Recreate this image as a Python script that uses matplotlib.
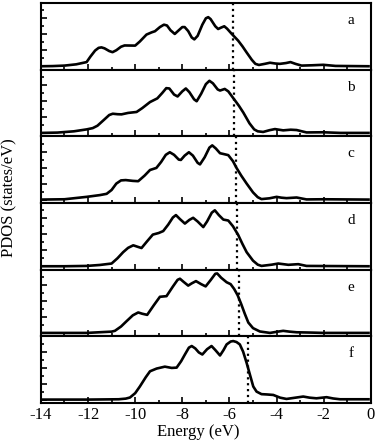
import numpy as np
import matplotlib
matplotlib.use("Agg")
import matplotlib.pyplot as plt
from matplotlib.ticker import MultipleLocator

plt.rcParams["font.family"] = ["Liberation Serif", "DejaVu Serif"]

# PDOS curves (energy in eV, density in arbitrary units)
e_a = [-14.0, -13.5, -13.0, -12.5, -12.06, -11.9, -11.7, -11.55, -11.43, -11.3, -11.1,
       -10.96, -10.8, -10.6, -10.45, -10.0, -9.8, -9.52, -9.3, -9.16, -8.95, -8.78,
       -8.65, -8.5, -8.32, -8.15, -8.0, -7.9, -7.75, -7.6, -7.49, -7.35, -7.15,
       -7.0, -6.9, -6.8, -6.6, -6.48, -6.35, -6.22, -6.1, -5.9, -5.63, -5.45,
       -5.27, -5.05, -4.9, -4.75, -4.5, -4.28, -4.05, -3.86, -3.6, -3.41, -3.2,
       -2.94, -2.5, -2.02, -1.5, -0.1]
d_a = [0.0, 0.01, 0.04, 0.12, 0.26, 0.6, 0.98, 1.15, 1.18, 1.12, 0.95,
       0.88, 1.0, 1.22, 1.3, 1.29, 1.55, 1.98, 2.12, 2.19, 2.45, 2.6,
       2.55, 2.25, 2.02, 2.25, 2.45, 2.45, 2.2, 1.8, 1.68, 1.9, 2.6,
       3.0, 3.07, 2.95, 2.5, 2.33, 2.42, 2.5, 2.35, 2.02, 1.6, 1.25,
       0.86, 0.4, 0.15, 0.08, 0.15, 0.22, 0.17, 0.15, 0.2, 0.26, 0.15,
       0.04, 0.06, 0.09, 0.02, 0.0]

e_b = [-14.0, -13.3, -12.6, -12.06, -11.8, -11.6, -11.3, -11.1, -10.95, -10.75, -10.58,
       -10.3, -9.94, -9.7, -9.37, -9.06, -8.85, -8.68, -8.55, -8.35, -8.2, -8.0,
       -7.85, -7.7, -7.5, -7.39, -7.2, -7.0, -6.85, -6.7, -6.5, -6.4, -6.2,
       -6.05, -5.84, -5.6, -5.41, -5.15, -4.95, -4.8, -4.57, -4.3, -4.07, -3.72,
       -3.4, -3.15, -2.73, -2.02, -1.3, -0.1]
d_b = [0.0, 0.02, 0.1, 0.22, 0.3, 0.45, 0.85, 1.12, 1.2, 1.17, 1.16,
       1.25, 1.31, 1.55, 1.93, 2.16, 2.5, 2.8, 2.78, 2.4, 2.28, 2.6,
       2.78, 2.55, 2.1, 1.98, 2.45, 3.05, 3.26, 3.1, 2.72, 2.65, 2.75,
       2.6, 2.18, 1.7, 1.27, 0.6, 0.22, 0.1, 0.06, 0.17, 0.24, 0.16,
       0.2, 0.18, 0.03, 0.04, 0.0, 0.0]

e_c = [-14.0, -13.0, -12.06, -11.5, -11.21, -11.0, -10.8, -10.6, -10.4, -10.1, -9.87,
       -9.6, -9.37, -9.1, -8.9, -8.7, -8.53, -8.35, -8.15, -8.06, -7.9, -7.72,
       -7.55, -7.35, -7.25, -7.05, -6.85, -6.73, -6.58, -6.4, -6.25, -6.05, -5.85,
       -5.7, -5.5, -5.27, -5.0, -4.8, -4.64, -4.3, -4.0, -3.8, -3.58, -3.15,
       -2.73, -2.02, -0.1]
d_c = [0.0, 0.02, 0.17, 0.28, 0.36, 0.6, 1.0, 1.2, 1.22, 1.17, 1.15,
       1.5, 1.85, 1.98, 2.35, 2.8, 2.96, 2.8, 2.5, 2.48, 2.75, 2.96,
       2.75, 2.3, 2.2, 2.65, 3.25, 3.39, 3.2, 2.9, 2.85, 2.78, 2.4,
       1.98, 1.5, 1.0, 0.45, 0.15, 0.03, 0.08, 0.17, 0.12, 0.09, 0.13,
       0.01, 0.02, 0.0]

e_d = [-14.0, -13.0, -12.06, -11.5, -11.0, -10.75, -10.51, -10.3, -10.08, -9.9, -9.73,
       -9.5, -9.25, -9.0, -8.81, -8.6, -8.4, -8.27, -8.1, -7.89, -7.7, -7.54,
       -7.35, -7.11, -6.95, -6.75, -6.62, -6.45, -6.26, -6.05, -5.85, -5.63, -5.45,
       -5.27, -5.0, -4.8, -4.64, -4.2, -3.93, -3.5, -3.08, -2.73, -0.1]
d_d = [0.0, 0.0, 0.02, 0.08, 0.17, 0.5, 0.88, 1.15, 1.31, 1.22, 1.14,
       1.55, 1.98, 2.08, 2.2, 2.6, 3.05, 3.2, 2.95, 2.67, 2.9, 3.03,
       2.8, 2.45, 2.8, 3.35, 3.5, 3.2, 2.92, 2.86, 2.5, 1.96, 1.4,
       0.88, 0.35, 0.1, 0.02, 0.1, 0.17, 0.09, 0.13, 0.02, 0.0]

e_e = [-14.0, -12.06, -11.0, -10.86, -10.6, -10.36, -10.1, -9.87, -9.7, -9.49, -9.2,
       -8.95, -8.67, -8.4, -8.2, -8.1, -7.95, -7.75, -7.6, -7.42, -7.2, -7.01,
       -6.8, -6.6, -6.52, -6.35, -6.12, -5.95, -5.8, -5.65, -5.5, -5.35, -5.2,
       -5.0, -4.71, -4.28, -3.95, -3.72, -3.45, -3.15, -2.5, -2.02, -0.1]
d_e = [0.0, 0.0, 0.08, 0.13, 0.4, 0.74, 1.1, 1.28, 1.2, 1.13, 1.75,
       2.26, 2.3, 2.9, 3.32, 3.39, 3.2, 2.96, 3.1, 3.24, 3.05, 2.91,
       3.3, 3.7, 3.72, 3.45, 3.17, 3.05, 2.75, 2.35, 1.8, 1.2, 0.65,
       0.3, 0.09, 0.0, 0.08, 0.13, 0.08, 0.04, 0.02, 0.0, 0.0]

e_f = [-14.0, -12.0, -10.7, -10.4, -10.22, -10.0, -9.8, -9.55, -9.37, -9.09, -8.74,
       -8.45, -8.24, -8.05, -7.89, -7.72, -7.6, -7.45, -7.3, -7.15, -6.95, -6.76,
       -6.6, -6.4, -6.25, -6.12, -5.95, -5.84, -5.7, -5.56, -5.42, -5.27, -5.12,
       -4.99, -4.85, -4.64, -4.4, -4.14, -3.85, -3.58, -3.2, -2.87, -2.6, -2.31,
       -1.88, -1.6, -1.31, -0.1]
d_f = [0.0, 0.0, 0.02, 0.06, 0.13, 0.4, 0.82, 1.4, 1.77, 1.94, 2.06,
       1.98, 2.0, 2.4, 2.82, 3.25, 3.35, 3.2, 2.95, 2.82, 3.15, 3.35,
       3.1, 2.76, 3.1, 3.45, 3.63, 3.66, 3.6, 3.45, 3.0, 2.29, 1.5,
       0.82, 0.5, 0.34, 0.32, 0.29, 0.12, 0.04, 0.12, 0.19, 0.12, 0.08,
       0.15, 0.07, 0.02, 0.02]

# Fermi level (dotted line) per panel
fermi = [-5.87, -5.79, -5.74, -5.66, -5.61, -5.23]
letters = ["a", "b", "c", "d", "e", "f"]

energies = [e_a, e_b, e_c, e_d, e_e, e_f]
dos = [d_a, d_b, d_c, d_d, d_e, d_f]

fig, axes = plt.subplots(6, 1, sharex=True, figsize=(3.75, 4.42), dpi=100)
fig.subplots_adjust(left=0.109, right=0.989, top=0.993, bottom=0.088, hspace=0)

for ax, x, y, ef, lab in zip(axes, energies, dos, fermi, letters):
    ax.plot(x, y, color="black", lw=1.9, solid_joinstyle="round")
    ax.axvline(ef, color="black", ls=":", lw=1.6)
    ax.text(0.94, 0.74, lab, transform=ax.transAxes, fontsize=11,
            ha="center", va="center")
    ax.set_xlim(-14, 0)
    ax.set_ylim(-0.22, 3.95)
    ax.yaxis.set_major_locator(MultipleLocator(1))
    ax.yaxis.set_minor_locator(MultipleLocator(0.5))
    ax.xaxis.set_major_locator(MultipleLocator(2))
    ax.xaxis.set_minor_locator(MultipleLocator(1))
    ax.tick_params(which="both", direction="in", top=False, right=False,
                   labelleft=False, width=1.2)
    ax.tick_params(which="major", length=4)
    ax.tick_params(which="minor", length=2.5)
    for s in ax.spines.values():
        s.set_linewidth(1.5)

axes[-1].tick_params(axis="x", labelsize=12, pad=3)
axes[-1].set_xticklabels([f"{int(v)}" for v in axes[-1].get_xticks()])
axes[-1].set_xlabel("Energy (eV)", fontsize=12)
axes[-1].xaxis.set_label_coords(0.477, -0.315)
fig.text(0.024, 0.554, "PDOS (states/eV)", rotation=90, fontsize=12,
         ha="center", va="center")

fig.savefig("out.png", dpi=100)
